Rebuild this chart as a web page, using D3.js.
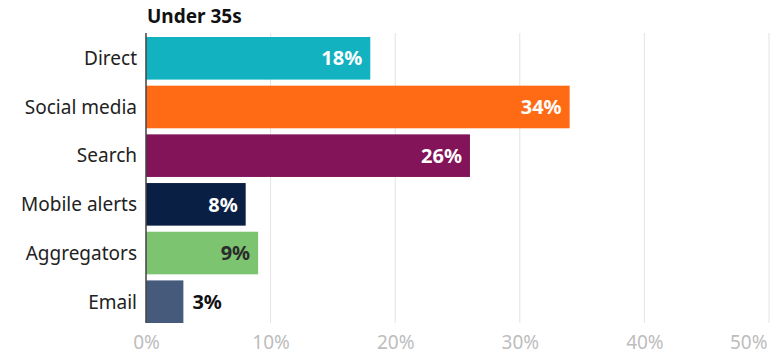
<!DOCTYPE html>
<html>
<head>
<meta charset="utf-8">
<script src="https://cdn.jsdelivr.net/npm/d3@7"></script>
<style>
  body { margin: 0; background: #fff; }
  svg { display: block; font-family: "Noto Sans", "Open Sans", sans-serif; }
</style>
</head>
<body>
<svg id="chart"></svg>
<script>
const title = "Under 35s";
const categories = ["Direct", "Social media", "Search", "Mobile alerts", "Aggregators", "Email"];
const values = [18, 34, 26, 8, 9, 3];
const colors = ["#12b2c0", "#ff6b14", "#83145a", "#0a1f44", "#7cc46f", "#465a7c"];
const labelColors = ["#fff", "#fff", "#fff", "#fff", "#2b2b2b", "#111"];
const ticks = [0, 10, 20, 30, 40, 50];

const width = 780, height = 354;
const margin = {top: 37, right: 11, bottom: 31, left: 146};

const svg = d3.select("#chart")
  .attr("width", width)
  .attr("height", height);

const g = svg.append("g")
  .attr("transform", "translate(" + margin.left + "," + margin.top + ")");

const xScale = d3.scaleLinear().domain([0, 50]).range([0, 623]);
const yScale = d3.scaleBand().domain(categories).range([0, 286]).paddingInner(0.125).paddingOuter(0);

// gridlines
g.append("g")
  .selectAll("line")
  .data(ticks)
  .enter().append("line")
  .attr("x1", d => xScale(d))
  .attr("x2", d => xScale(d))
  .attr("y1", -4)
  .attr("y2", 286)
  .attr("stroke", "#e3e3e3")
  .attr("stroke-width", 1);

// x axis tick labels
const xAxis = g.append("g")
  .attr("transform", "translate(0,286)")
  .call(d3.axisBottom(xScale).tickValues(ticks).tickFormat(d => d + "%").tickSize(0).tickPadding(13));
xAxis.select(".domain").remove();
xAxis.selectAll("text")
  .attr("fill", "#bdbdbd")
  .style("font-size", "19px")
  .style("font-family", "'Noto Sans', sans-serif");
// keep the last label inside the picture
xAxis.selectAll(".tick").filter(d => d === 50).select("text")
  .attr("text-anchor", "end")
  .attr("x", -2);

// bars
g.selectAll(".bar")
  .data(values)
  .enter().append("rect")
  .attr("class", "bar")
  .attr("x", 0)
  .attr("y", (d, i) => yScale(categories[i]))
  .attr("width", d => xScale(d))
  .attr("height", yScale.bandwidth())
  .attr("fill", (d, i) => colors[i]);

// value labels
g.selectAll(".val")
  .data(values)
  .enter().append("text")
  .attr("class", "val")
  .attr("x", d => d < 5 ? xScale(d) + 9 : xScale(d) - 8)
  .attr("y", (d, i) => yScale(categories[i]) + yScale.bandwidth() / 2)
  .attr("dy", "0.36em")
  .attr("text-anchor", d => d < 5 ? "start" : "end")
  .attr("fill", (d, i) => labelColors[i])
  .style("font-size", "20px")
  .style("font-weight", "bold")
  .text(d => d + "%");

// category labels
g.selectAll(".cat")
  .data(categories)
  .enter().append("text")
  .attr("class", "cat")
  .attr("x", -9)
  .attr("y", d => yScale(d) + yScale.bandwidth() / 2)
  .attr("dy", "0.36em")
  .attr("text-anchor", "end")
  .attr("fill", "#222")
  .style("font-size", "19px")
  .text(d => d);

// axis line
g.append("line")
  .attr("x1", 0).attr("x2", 0)
  .attr("y1", -4).attr("y2", 286)
  .attr("stroke", "#444")
  .attr("stroke-width", 1.5);

// title
svg.append("text")
  .attr("x", 147)
  .attr("y", 23)
  .attr("fill", "#111")
  .style("font-size", "19px")
  .style("font-weight", "bold")
  .text(title);
</script>
</body>
</html>
